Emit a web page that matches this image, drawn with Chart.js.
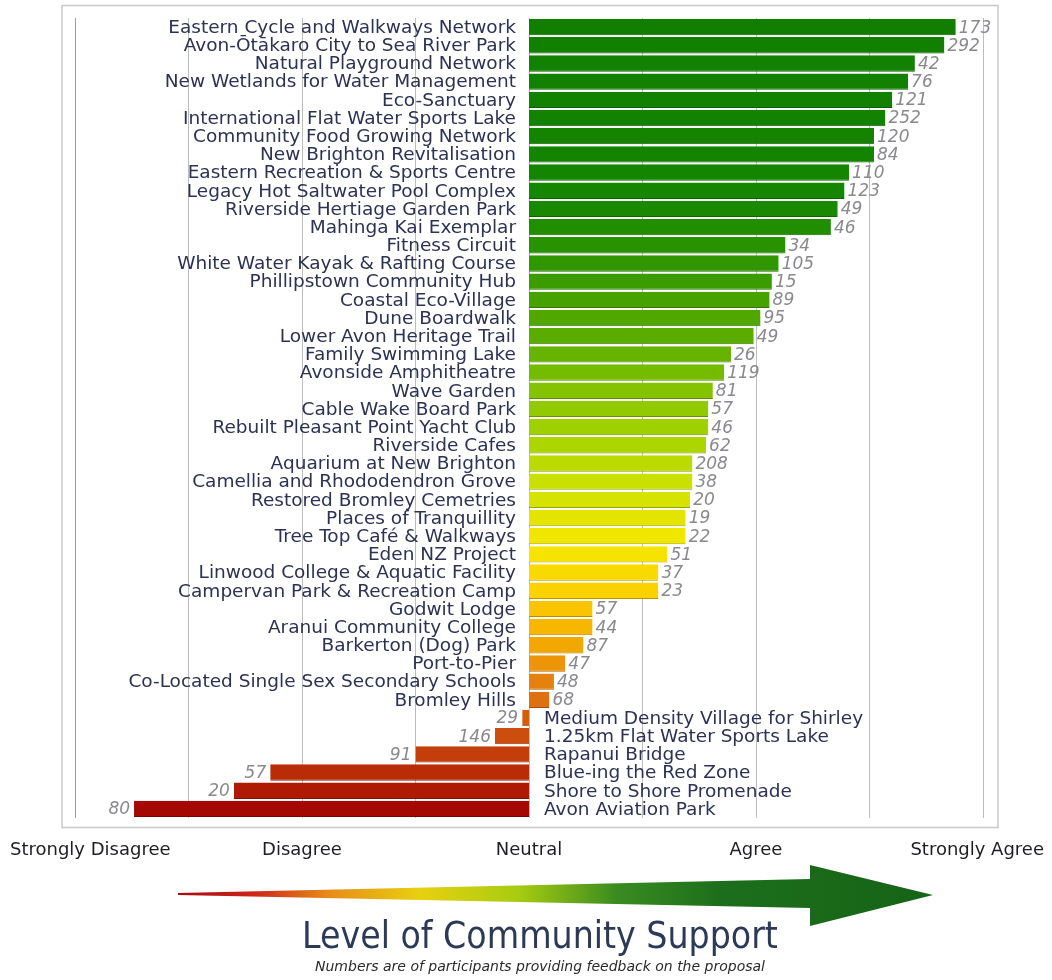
<!DOCTYPE html>
<html>
<head>
<meta charset="utf-8">
<script src="https://cdn.jsdelivr.net/npm/chart.js@4.4.1/dist/chart.umd.min.js"></script>
<style>
  html, body { margin: 0; padding: 0; background: #fff; }
  #wrap { position: relative; width: 1052px; height: 980px; }
</style>
</head>
<body>
<div id="wrap"><canvas id="chart" width="1052" height="980"></canvas></div>
<script>
/* Community support for proposals - diverging bar chart around Neutral */

var categories = [
    'Eastern Cycle and Walkways Network',
    'Avon-Ōtākaro City to Sea River Park',
    'Natural Playground Network',
    'New Wetlands for Water Management',
    'Eco-Sanctuary',
    'International Flat Water Sports Lake',
    'Community Food Growing Network',
    'New Brighton Revitalisation',
    'Eastern Recreation & Sports Centre',
    'Legacy Hot Saltwater Pool Complex',
    'Riverside Hertiage Garden Park',
    'Mahinga Kai Exemplar',
    'Fitness Circuit',
    'White Water Kayak & Rafting Course',
    'Phillipstown Community Hub',
    'Coastal Eco-Village',
    'Dune Boardwalk',
    'Lower Avon Heritage Trail',
    'Family Swimming Lake',
    'Avonside Amphitheatre',
    'Wave Garden',
    'Cable Wake Board Park',
    'Rebuilt Pleasant Point Yacht Club',
    'Riverside Cafes',
    'Aquarium at New Brighton',
    'Camellia and Rhododendron Grove',
    'Restored Bromley Cemetries',
    'Places of Tranquillity',
    'Tree Top Café & Walkways',
    'Eden NZ Project',
    'Linwood College & Aquatic Facility',
    'Campervan Park & Recreation Camp',
    'Godwit Lodge',
    'Aranui Community College',
    'Barkerton (Dog) Park',
    'Port-to-Pier',
    'Co-Located Single Sex Secondary Schools',
    'Bromley Hills',
    'Medium Density Village for Shirley',
    '1.25km Flat Water Sports Lake',
    'Rapanui Bridge',
    'Blue-ing the Red Zone',
    'Shore to Shore Promenade',
    'Avon Aviation Park'
];

// average score, 1 = strongly disagree ... 5 = strongly agree
var scores = [
    4.88, 4.83, 4.70, 4.67, 4.60, 4.57, 4.52, 4.52, 4.41, 4.39,
    4.36, 4.33, 4.13, 4.10, 4.07, 4.06, 4.02, 3.99, 3.89, 3.86,
    3.81, 3.79, 3.79, 3.78, 3.72, 3.72, 3.71, 3.69, 3.69, 3.61,
    3.57, 3.57, 3.28, 3.28, 3.24, 3.16, 3.11, 3.09, 2.97, 2.85,
    2.50, 1.86, 1.70, 1.26
];

// number of participants giving feedback
var participants = [
    173, 292, 42, 76, 121, 252, 120, 84, 110, 123,
    49, 46, 34, 105, 15, 89, 95, 49, 26, 119,
    81, 57, 46, 62, 208, 38, 20, 19, 22, 51,
    37, 23, 57, 44, 87, 47, 48, 68, 29, 146,
    91, 57, 20, 80
];

var scaleTicks = [1, 2, 3, 4, 5];
var scaleLabels = ['Strongly Disagree', 'Disagree', 'Neutral', 'Agree', 'Strongly Agree'];
var neutral = 3;

// colour ramp down the list (row fraction -> rgb)
var rampStops = [
    [0.00, [17, 126, 0]],
    [0.22, [20, 134, 0]],
    [0.30, [48, 150, 0]],
    [0.40, [92, 174, 0]],
    [0.48, [140, 200, 0]],
    [0.58, [200, 224, 0]],
    [0.66, [245, 232, 0]],
    [0.72, [252, 210, 0]],
    [0.78, [246, 176, 0]],
    [0.84, [228, 128, 16]],
    [0.88, [214, 96, 16]],
    [0.93, [196, 62, 12]],
    [1.00, [165, 8, 0]]
];

function rampColor(t, shade) {
    for (var i = 1; i < rampStops.length; i++) {
        if (t <= rampStops[i][0]) {
            var a = rampStops[i - 1], b = rampStops[i];
            var f = (t - a[0]) / (b[0] - a[0]);
            var c = a[1].map(function(v, k) { return Math.round((v + (b[1][k] - v) * f) * shade); });
            return 'rgb(' + c.join(',') + ')';
        }
    }
    return 'rgb(165,8,0)';
}

var barColors = categories.map(function(c, i) { return rampColor(i / (categories.length - 1), 1); });
var barEdges = categories.map(function(c, i) { return rampColor(i / (categories.length - 1), 0.72); });

var labelFont = '18.5px "DejaVu Sans", Verdana, sans-serif';
var valueFont = 'italic 17px "DejaVu Sans", Verdana, sans-serif';

var decorPlugin = {
    id: 'decor',
    beforeDraw: function(chart) {
        var ctx = chart.ctx;
        ctx.save();
        ctx.strokeStyle = '#c9c9c9';
        ctx.lineWidth = 1.5;
        ctx.strokeRect(62, 5.5, 936, 822);
        ctx.restore();
    },
    afterDatasetsDraw: function(chart) {
        var ctx = chart.ctx;
        var meta = chart.getDatasetMeta(0);
        var xs = chart.scales.x;
        var x0 = xs.getPixelForValue(neutral);
        ctx.save();
        ctx.textBaseline = 'middle';
        meta.data.forEach(function(bar, i) {
            var y = bar.y + 1;
            var xEnd = xs.getPixelForValue(scores[i]);
            if (scores[i] >= neutral) {
                ctx.font = labelFont;
                ctx.fillStyle = '#2b3252';
                ctx.textAlign = 'right';
                ctx.fillText(categories[i], x0 - 13, y);
                ctx.font = valueFont;
                ctx.fillStyle = '#8a8a8e';
                ctx.textAlign = 'left';
                ctx.fillText(participants[i], xEnd + 3, y);
            } else {
                ctx.font = labelFont;
                ctx.fillStyle = '#2b3252';
                ctx.textAlign = 'left';
                ctx.fillText(categories[i], x0 + 15, y);
                ctx.font = valueFont;
                ctx.fillStyle = '#8a8a8e';
                ctx.textAlign = 'right';
                ctx.fillText(participants[i], xEnd - 4, y);
            }
        });
        ctx.restore();
    },
    afterDraw: function(chart) {
        var ctx = chart.ctx;
        var xs = chart.scales.x;
        var W = chart.width;
        ctx.save();

        // agreement scale labels under the frame
        ctx.font = '18px "DejaVu Sans", sans-serif';
        ctx.fillStyle = '#1e1e22';
        ctx.textAlign = 'center';
        ctx.textBaseline = 'middle';
        scaleTicks.forEach(function(v, i) {
            var w = ctx.measureText(scaleLabels[i]).width;
            var x = xs.getPixelForValue(v);
            x = Math.max(x, 10 + w / 2);
            x = Math.min(x, W - 8 - w / 2);
            ctx.fillText(scaleLabels[i], x, 850);
        });

        // gradient arrow
        var g = ctx.createLinearGradient(178, 0, 933, 0);
        g.addColorStop(0.00, '#a80c10');
        g.addColorStop(0.10, '#cc2418');
        g.addColorStop(0.20, '#e88c18');
        g.addColorStop(0.32, '#e8d010');
        g.addColorStop(0.45, '#a8cc10');
        g.addColorStop(0.58, '#3a8c20');
        g.addColorStop(0.72, '#1c6e1c');
        g.addColorStop(1.00, '#166416');
        ctx.fillStyle = g;
        ctx.beginPath();
        ctx.moveTo(178, 893);
        ctx.lineTo(810, 879);
        ctx.lineTo(810, 865);
        ctx.lineTo(933, 895);
        ctx.lineTo(810, 926);
        ctx.lineTo(810, 908);
        ctx.lineTo(178, 895);
        ctx.closePath();
        ctx.fill();

        // title and note
        ctx.fillStyle = '#2c3a58';
        ctx.font = '37px "DejaVu Sans Condensed", "DejaVu Sans", sans-serif';
        ctx.fillText('Level of Community Support', 540, 938);
        ctx.fillStyle = '#2a2a2a';
        ctx.font = 'italic 14px "DejaVu Sans", sans-serif';
        ctx.fillText('Numbers are of participants providing feedback on the proposal', 540, 967);
        ctx.restore();
    }
};

new Chart(document.getElementById('chart'), {
    type: 'bar',
    data: {
        labels: categories,
        datasets: [{
            label: 'Support',
            data: scores.map(function(s) { return [neutral, s]; }),
            backgroundColor: barColors,
            borderColor: barEdges,
            borderWidth: { top: 0, left: 0, right: 0, bottom: 1 },
            borderSkipped: false,
            categoryPercentage: 1,
            barPercentage: 0.9
        }]
    },
    options: {
        indexAxis: 'y',
        responsive: false,
        animation: false,
        layout: { padding: { left: 75, right: 69, top: 18, bottom: 162 } },
        plugins: {
            legend: { display: false },
            tooltip: { enabled: false }
        },
        scales: {
            x: {
                min: 1,
                max: 5,
                afterFit: function(s) { s.height = 0; },
                ticks: { display: false, stepSize: 0.5 },
                border: { display: false },
                grid: {
                    drawTicks: false,
                    lineWidth: 1,
                    color: function(c) { return c.tick && c.tick.value === 1 ? '#9c9c9c' : '#bdbdbd'; }
                }
            },
            y: {
                display: false
            }
        }
    },
    plugins: [decorPlugin]
});
</script>
</body>
</html>
